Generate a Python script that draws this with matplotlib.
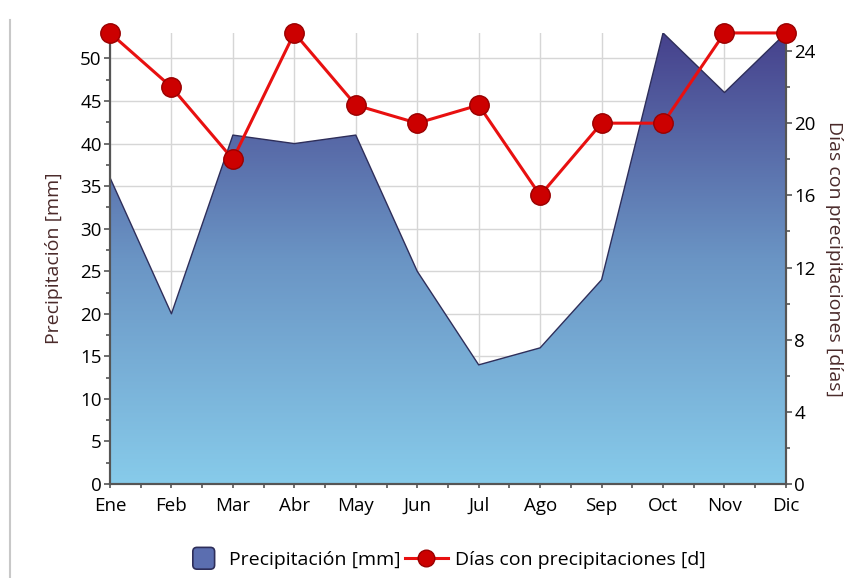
import matplotlib.pyplot as plt
import numpy as np
from matplotlib.colors import LinearSegmentedColormap
from matplotlib.legend_handler import HandlerPatch
from matplotlib.lines import Line2D
from matplotlib.patches import FancyBboxPatch, Rectangle
from matplotlib.ticker import MultipleLocator

months = ["Ene", "Feb", "Mar", "Abr", "May", "Jun", "Jul", "Ago", "Sep", "Oct", "Nov", "Dic"]
precip_mm = [36, 20, 41, 40, 41, 25, 14, 16, 24, 53, 46, 53]
rain_days = [25, 22, 18, 25, 21, 20, 21, 16, 20, 20, 25, 25]

plt.rcParams["font.family"] = ["Open Sans", "DejaVu Sans"]

label_color = "#4a2a2a"
axis_color = "#555555"


class SquareHandler(HandlerPatch):
    # rounded square swatch, like the original legend
    def create_artists(self, legend, orig_handle, xdescent, ydescent, width, height, fontsize, trans):
        s = height * 1.6
        x0 = width - s - 5
        y0 = (height - s) / 2
        p = FancyBboxPatch((x0 - xdescent, y0 - ydescent), s, s,
                           boxstyle="round,pad=0,rounding_size=3",
                           facecolor="#5b6eb0", edgecolor="#2e2e5a", lw=1.2, transform=trans)
        return [p]


fig = plt.figure(figsize=(8.46, 5.78), dpi=100)
ax = fig.add_axes([0.130, 0.1626, 0.799, 0.7804])
ax2 = ax.twinx()

x = np.arange(len(months))
ymax = 53

# gradient area clipped to the precipitation polygon
grad = LinearSegmentedColormap.from_list("precip", ["#87cbea", "#6a94c4", "#46418c"])
area = ax.fill_between(x, 0, precip_mm, facecolor="none", edgecolor="#2e2e5a", lw=1, zorder=3)
img = ax.imshow(np.linspace(0, 1, 256).reshape(-1, 1), cmap=grad, aspect="auto",
                origin="lower", extent=[0, len(months) - 1, 0, ymax], zorder=2)
img.set_clip_path(area.get_paths()[0], transform=ax.transData)

ax.set_xlim(0, len(months) - 1)
ax.set_ylim(0, ymax)
ax.set_xticks(x)
ax.set_xticklabels(months)
ax.xaxis.set_minor_locator(MultipleLocator(0.5))
ax.yaxis.set_major_locator(MultipleLocator(5))
ax.yaxis.set_minor_locator(MultipleLocator(2.5))
ax.grid(True, color="#d6d6d6", lw=1, zorder=0)
ax.set_axisbelow(True)
ax.set_ylabel("Precipitación [mm]", color=label_color, fontsize=14, labelpad=12)

ax2.set_ylim(0, 25)
ax2.yaxis.set_major_locator(MultipleLocator(4))
ax2.yaxis.set_minor_locator(MultipleLocator(2))
ax2.plot(x, rain_days, color="#e81010", lw=2.2, marker="o", ms=14,
         markerfacecolor="#cc0000", markeredgecolor="#990000", markeredgewidth=1,
         clip_on=False, zorder=5)
ax2.set_ylabel("Días con precipitaciones [días]", color=label_color, fontsize=14,
               rotation=270, labelpad=20)

for a in (ax, ax2):
    a.spines["top"].set_visible(False)
    for s in ("left", "right", "bottom"):
        a.spines[s].set_color(axis_color)
        a.spines[s].set_linewidth(1.5)
    a.tick_params(which="both", colors=axis_color, labelcolor="black", labelsize=13.5, width=1.2)
    a.tick_params(which="major", length=4, pad=2)
    a.tick_params(which="minor", length=3)
ax.tick_params(axis="x", which="both", length=3, pad=6)

# faint border on the left of the control
fig.add_artist(Line2D([0.012, 0.012], [0.0, 0.965], color="#c8c8c8", lw=1.5))

handles = [
    Rectangle((0, 0), 1, 1),
    Line2D([], [], color="#e81010", lw=2.2, marker="o", ms=12,
           markerfacecolor="#cc0000", markeredgecolor="#990000"),
]
fig.legend(handles, ["Precipitación [mm]", "Días con precipitaciones [d]"],
           loc="center", bbox_to_anchor=(0.523, 0.031), ncol=2, frameon=False,
           fontsize=14, handlelength=2.2, columnspacing=0.2, handletextpad=0.4,
           handler_map={Rectangle: SquareHandler()})

fig.savefig("out.png", dpi=100)
